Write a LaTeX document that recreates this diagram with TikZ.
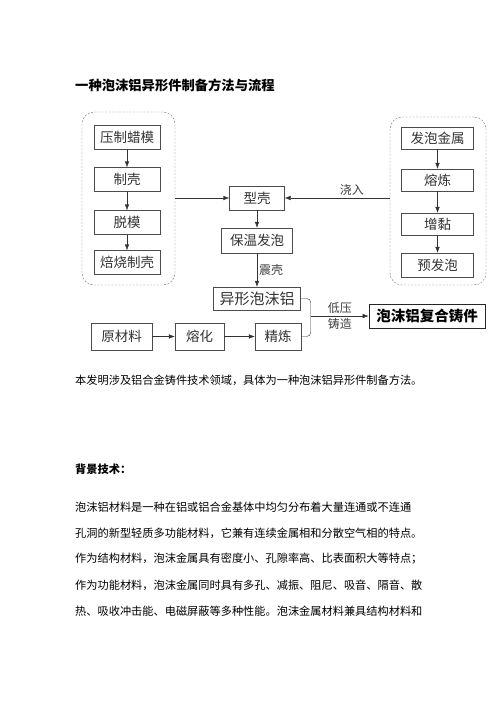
\documentclass[tikz,border=0pt]{standalone}
\usepackage{fontspec}
\setmainfont{Noto Sans CJK SC}
\usetikzlibrary{arrows.meta}

\begin{document}
\begin{tikzpicture}[x=1pt,y=-1pt,
    proc/.style={draw=black!70,text=black!80,inner sep=0pt,minimum height=24pt,font=\fontsize{13.5}{14}\selectfont},
    group/.style={draw=black!55,dash pattern=on 2pt off 1.5pt,rounded corners=12pt},
    flow/.style={-{Latex[length=6pt,width=4.5pt]},draw=black!80},
    tag/.style={text=black!75,inner sep=2pt,font=\fontsize{12}{12}\selectfont},
    body/.style={anchor=west,inner sep=0pt,font=\fontsize{11.2}{11.2}\selectfont}]
  \useasboundingbox[fill=white] (0,0) rectangle (496,702);
  % title
  \node[anchor=west,inner sep=0pt,font=\fontsize{13.3}{14}\selectfont\bfseries] (title) at (75,85) {一种泡沫铝异形件制备方法与流程};
  % wax mould group
  \node[group,minimum width=93pt,minimum height=173pt] (waxgroup) at (128.5,198.5) {};
  \node[proc,minimum width=66pt] (press) at (127,137) {压制蜡模};
  \node[proc,minimum width=66pt] (shellmake) at (127,179.5) {制壳};
  \node[proc,minimum width=66pt] (dewax) at (127,222.5) {脱模};
  \node[proc,minimum width=66pt] (roast) at (127,262.5) {焙烧制壳};
  % foaming metal group
  \node[group,minimum width=96pt,minimum height=168pt] (metalgroup) at (438,201) {};
  \node[proc,minimum width=72pt,minimum height=22pt] (foammetal) at (437.5,138) {发泡金属};
  \node[proc,minimum width=72pt,minimum height=22pt] (melt) at (437.5,180) {熔炼};
  \node[proc,minimum width=72pt,minimum height=22pt] (thicken) at (437.5,224) {增黏};
  \node[proc,minimum width=72pt,minimum height=24pt] (prefoam) at (437.5,265) {预发泡};
  % middle column
  \node[proc,minimum width=55pt] (shell) at (257,198) {型壳};
  \node[proc,minimum width=71pt,minimum height=25pt] (insulate) at (257,240.5) {保温发泡};
  \node[proc,minimum width=87pt,minimum height=23pt,font=\fontsize{15}{15}\selectfont] (shaped) at (257,298.5) {异形泡沫铝};
  % bottom row
  \node[proc,minimum width=61pt,minimum height=27pt] (raw) at (121.5,336.5) {原材料};
  \node[proc,minimum width=49pt,minimum height=27pt] (fuse) at (199.5,336.5) {熔化};
  \node[proc,minimum width=46pt,minimum height=27pt] (refine) at (278,336.5) {精炼};
  \node[proc,line width=0.8pt,draw=black!85,text=black,minimum width=116pt,font=\fontsize{14.5}{15}\selectfont\bfseries] (product) at (427,316) {泡沫铝复合铸件};

  \draw[flow] (press) -- (shellmake);
  \draw[flow] (shellmake) -- (dewax);
  \draw[flow] (dewax) -- (roast);
  \draw[flow] (foammetal) -- (melt);
  \draw[flow] (melt) -- (thicken);
  \draw[flow] (thicken) -- (prefoam);
  \draw[flow] (waxgroup.east |- shell.west) -- (shell.west);
  \draw[flow] (metalgroup.west |- shell.east) -- (shell.east) node[pos=0.36,above,tag] {浇入};
  \draw[flow] (shell) -- (insulate);
  \draw[flow] (insulate) -- (shaped) node[midway,right,tag] {震壳};
  \draw[flow] (raw) -- (fuse);
  \draw[flow] (fuse) -- (refine);
  \draw[draw=black!80,rounded corners=4pt] (shaped.east) -- ++(10,0) |- (refine.east);
  \coordinate (join) at (311,316);
  \draw[flow] (join) -- (product.west) node[midway,above,tag] {低压} node[midway,below,tag] {铸造};

  % text below
  \node[body] (intro) at (75,380) {本发明涉及铝合金铸件技术领域，具体为一种泡沫铝异形件制备方法。};
  \node[body,font=\fontsize{11.2}{11.2}\selectfont\bfseries] (bghead) at (75,469) {背景技术：};
  \node[body] (line1) at (75,507) {泡沫铝材料是一种在铝或铝合金基体中均匀分布着大量连通或不连通};
  \node[body] (line2) at (75,533) {孔洞的新型轻质多功能材料，它兼有连续金属相和分散空气相的特点。};
  \node[body] (line3) at (75,559) {作为结构材料，泡沫金属具有密度小、孔隙率高、比表面积大等特点；};
  \node[body] (line4) at (75,585) {作为功能材料，泡沫金属同时具有多孔、减振、阻尼、吸音、隔音、散};
  \node[body] (line5) at (75,611) {热、吸收冲击能、电磁屏蔽等多种性能。泡沫金属材料兼具结构材料和};
\end{tikzpicture}
\end{document}
